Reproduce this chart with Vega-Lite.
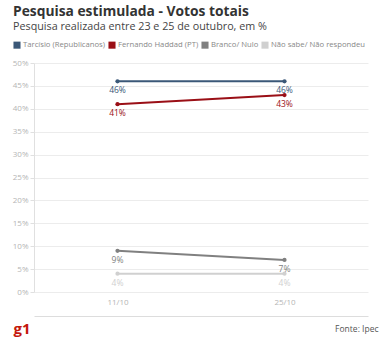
{
  "$schema": "https://vega.github.io/schema/vega-lite/v6.json",
  "width": 334,
  "height": 229,
  "autosize": "none",
  "padding": {"left": 34, "top": 63, "right": 22, "bottom": 60},
  "config": {
    "font": "Open Sans",
    "view": {"stroke": null}
  },
  "title": {
    "text": "Pesquisa estimulada - Votos totais",
    "subtitle": "Pesquisa realizada entre 23 e 25 de outubro, em %",
    "anchor": "start",
    "frame": "group",
    "dx": -21,
    "offset": 9,
    "fontSize": 13.8,
    "fontWeight": "bold",
    "color": "#333333",
    "subtitleFontSize": 10.75,
    "subtitleColor": "#444444",
    "subtitlePadding": 3
  },
  "data": {
    "values": [
      {"serie": "Tarcísio (Republicanos)", "data": "11/10", "valor": 46},
      {"serie": "Tarcísio (Republicanos)", "data": "25/10", "valor": 46},
      {"serie": "Fernando Haddad (PT)", "data": "11/10", "valor": 41},
      {"serie": "Fernando Haddad (PT)", "data": "25/10", "valor": 43},
      {"serie": "Branco/ Nulo", "data": "11/10", "valor": 9},
      {"serie": "Branco/ Nulo", "data": "25/10", "valor": 7},
      {"serie": "Não sabe/ Não respondeu", "data": "11/10", "valor": 4},
      {"serie": "Não sabe/ Não respondeu", "data": "25/10", "valor": 4}
    ]
  },
  "encoding": {
    "y": {
      "field": "valor",
      "type": "quantitative",
      "scale": {"domain": [0, 50]},
      "axis": {
        "title": null,
        "values": [0, 5, 10, 15, 20, 25, 30, 35, 40, 45, 50],
        "labelExpr": "datum.value + '%'",
        "labelColor": "#b5b5b5",
        "labelFontSize": 8,
        "labelPadding": 2,
        "gridColor": "#ececec",
        "domainColor": "#e0e0e0",
        "tickColor": "#e0e0e0",
        "tickSize": 4
      }
    },
    "color": {
      "field": "serie",
      "type": "nominal",
      "scale": {
        "domain": ["Tarcísio (Republicanos)", "Fernando Haddad (PT)", "Branco/ Nulo", "Não sabe/ Não respondeu"],
        "range": ["#3b5878", "#9a0f16", "#808080", "#d0d0d0"]
      },
      "legend": {
        "title": null,
        "orient": "none",
        "legendX": -21,
        "legendY": -22,
        "direction": "horizontal",
        "symbolType": "square",
        "symbolSize": 50,
        "symbolStrokeWidth": 0,
        "symbolOpacity": 1,
        "labelFontSize": 7.7,
        "labelColor": "#888888",
        "labelOffset": 2,
        "columnPadding": 2
      }
    }
  },
  "resolve": {"axis": {"x": "independent"}},
  "layer": [
    {
      "mark": {"type": "line", "strokeWidth": 2},
      "encoding": {
        "x": {
          "field": "data",
          "type": "ordinal",
          "scale": {"type": "point", "padding": 0.5},
          "sort": ["11/10", "25/10"],
          "axis": {
            "orient": "bottom",
            "title": null,
            "labelAngle": 0,
            "labelColor": "#b5b5b5",
            "labelFontSize": 8,
            "domain": false,
            "ticks": false,
            "labelPadding": 6
          }
        }
      }
    },
    {
      "mark": {"type": "point", "filled": true, "size": 18, "opacity": 1},
      "encoding": {
        "x": {
          "field": "data",
          "type": "ordinal",
          "scale": {"type": "point", "padding": 0.5},
          "sort": ["11/10", "25/10"],
          "axis": {
            "orient": "bottom",
            "title": "g1",
            "labels": false,
            "ticks": false,
            "grid": false,
            "domain": true,
            "domainColor": "#dddddd",
            "offset": 24,
            "titleAnchor": "start",
            "titleAlign": "left",
            "titleBaseline": "middle",
            "titleX": -21,
            "titleY": 12,
            "titleFontSize": 15,
            "titleFontWeight": "bold",
            "titleColor": "#c4170c"
          }
        }
      }
    },
    {
      "transform": [{"calculate": "datum.valor + '%'", "as": "rotulo"}],
      "mark": {"type": "text", "dy": 9, "fontSize": 8.5},
      "encoding": {
        "x": {
          "field": "data",
          "type": "ordinal",
          "scale": {"type": "point", "padding": 0.5},
          "sort": ["11/10", "25/10"],
          "axis": {
            "orient": "bottom",
            "title": "Fonte: Ipec",
            "labels": false,
            "ticks": false,
            "grid": false,
            "domain": false,
            "offset": 24,
            "titleAlign": "right",
            "titleBaseline": "middle",
            "titleX": 344,
            "titleY": 12,
            "titleFontSize": 8.5,
            "titleFontWeight": "normal",
            "titleColor": "#555555"
          }
        },
        "text": {"field": "rotulo", "type": "nominal"}
      }
    }
  ]
}
